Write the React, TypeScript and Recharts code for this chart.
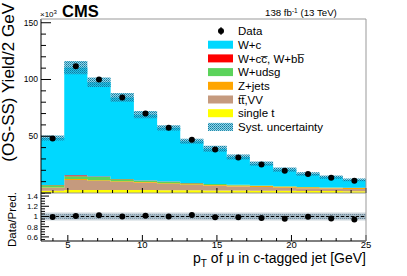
import React from 'react';
import { ComposedChart, Area, Scatter, XAxis, YAxis, ReferenceLine } from 'recharts';

// Bin edges of the pT(mu) histogram [GeV]
const binEdges = [3.2, 4.76, 6.31, 7.87, 9.43, 10.99, 12.54, 14.1, 15.66, 17.21, 18.77, 20.33, 21.89, 23.44, 25];
// Stacked MC components (x10^3 events / bin)
const singleT = [2.0, 2.6, 2.6, 2.6, 2.6, 2.5, 2.4, 2.3, 2.2, 2.0, 1.9, 1.8, 1.7, 1.6];
const ttVV = [2.4, 8.8, 7.9, 7.2, 6.4, 5.5, 4.6, 4.0, 3.6, 3.2, 2.8, 2.4, 2.2, 2.0];
const zJets = [0.5, 0.9, 0.8, 0.6, 0.6, 0.6, 0.6, 0.8, 0.9, 0.9, 0.9, 0.8, 0.8, 0.7];
const wUdsg = [2.0, 2.4, 2.9, 1.8, 1.3, 1.3, 1.1, 0.8, 0.5, 0.4, 0.3, 0.3, 0.2, 0.2];
const wCCbb = [0.2, 0.9, 0.3, 0.2, 0.2, 0.15, 0.1, 0.1, 0.1, 0.1, 0.05, 0.05, 0.05, 0.05];
const wC = [41.4, 94.9, 83.0, 71.8, 57.9, 47.35, 36.8, 31.0, 24.5, 19.2, 14.65, 11.45, 9.05, 6.95];
const dataYield = [48.0, 111.6, 99.9, 84.2, 70.0, 57.4, 47.0, 38.4, 31.3, 25.0, 19.7, 16.7, 13.4, 10.8];
const systUnc = [2.2, 5.8, 4.2, 3.9, 3.2, 2.3, 2.1, 2.6, 2.2, 1.9, 1.9, 1.5, 1.5, 1.2];
// Ratio panel
const ratio = [0.99, 1.01, 1.025, 1.0, 1.015, 1.0, 1.03, 0.985, 0.985, 0.97, 0.955, 0.995, 0.96, 0.94];
const ratioTotUnc = [0.08, 0.08, 0.08, 0.08, 0.08, 0.08, 0.08, 0.08, 0.08, 0.08, 0.08, 0.08, 0.08, 0.08];
const ratioSystUnc = [0.045, 0.05, 0.045, 0.045, 0.045, 0.045, 0.045, 0.05, 0.05, 0.05, 0.05, 0.05, 0.05, 0.05];
// Tick values
const mainYTicks = [0, 10, 20, 30, 40, 50, 60, 70, 80, 90, 100, 110, 120, 130, 140, 150];
const mainYLabels = [50, 100, 150];
const xTicks = [4, 5, 6, 7, 8, 9, 10, 11, 12, 13, 14, 15, 16, 17, 18, 19, 20, 21, 22, 23, 24, 25];
const xLabels = [5, 10, 15, 20, 25];
const ratioYTicks = [0.55, 0.6, 0.65, 0.7, 0.75, 0.8, 0.85, 0.9, 0.95, 1.0, 1.05, 1.1, 1.15, 1.2, 1.25, 1.3, 1.35, 1.4, 1.45];
const ratioYLabels = [0.6, 0.8, 1, 1.2, 1.4];
const legendLabels = ['Data', 'W+c', 'W+cc\u0305, W+bb\u0305', 'W+udsg', 'Z+jets', 'tt\u0305,VV', 'single t', 'Syst. uncertainty'];

const FONT = '"Liberation Sans", Arial, Helvetica, sans-serif';

const C = {
  wc: '#00d8ff',
  wccbb: '#ff0000',
  wudsg: '#5bd35b',
  zjets: '#ffa500',
  ttvv: '#c59a7e',
  singlet: '#ffff00',
};

const nBins = dataYield.length;
const edgeData = binEdges.map((x, i) => {
  const k = Math.min(i, nBins - 1);
  const tot = singleT[k] + ttVV[k] + zJets[k] + wUdsg[k] + wCCbb[k] + wC[k];
  return {
    x,
    singleT: singleT[k],
    ttVV: ttVV[k],
    zJets: zJets[k],
    wUdsg: wUdsg[k],
    wCCbb: wCCbb[k],
    wC: wC[k],
    band: [tot - systUnc[k], tot + systUnc[k]],
    rTot: [1 - ratioTotUnc[k], 1 + ratioTotUnc[k]],
    rSyst: [1 - ratioSystUnc[k], 1 + ratioSystUnc[k]],
  };
});
const centers = dataYield.map((_, i) => (binEdges[i] + binEdges[i + 1]) / 2);
const pointData = dataYield.map((y, i) => ({ x: centers[i], y }));
const ratioData = ratio.map((y, i) => ({ x: centers[i], y }));

const near = (a: number, list: number[]) => list.some((b) => Math.abs(a - b) < 1e-6);

const MainYTick = (p: any) => {
  const v = p.payload.value;
  const major = near(v, [0, 50, 100, 150]);
  return (
    <g>
      <line x1={p.x} x2={p.x + (major ? 10 : 5)} y1={p.y} y2={p.y} stroke="#000" strokeWidth={1} />
      {near(v, mainYLabels) && (
        <text x={p.x - 3} y={p.y} dy="0.35em" textAnchor="end" fontSize={8.5} fontFamily={FONT} fill="#000">
          {v}
        </text>
      )}
    </g>
  );
};

const MainXTick = (p: any) => {
  const v = p.payload.value;
  const major = near(v, xLabels);
  return <line x1={p.x} x2={p.x} y1={p.y} y2={p.y - (major ? 5 : 3)} stroke="#000" strokeWidth={1} />;
};

const RatioXTick = (p: any) => {
  const v = p.payload.value;
  const major = near(v, xLabels);
  return (
    <g>
      <line x1={p.x} x2={p.x} y1={p.y} y2={p.y - (major ? 6 : 3)} stroke="#000" strokeWidth={1} />
      {major && (
        <text x={p.x} y={p.y + 7} textAnchor="middle" fontSize={9.5} fontFamily={FONT} fill="#000">
          {v}
        </text>
      )}
    </g>
  );
};

const RatioYTick = (p: any) => {
  const v = p.payload.value;
  const major = near(v, ratioYLabels);
  return (
    <g>
      <line x1={p.x} x2={p.x + (major ? 8 : 4)} y1={p.y} y2={p.y} stroke="#000" strokeWidth={1} />
      {major && (
        <text x={p.x - 3} y={p.y} dy="0.35em" textAnchor="end" fontSize={8} fontFamily={FONT} fill="#000">
          {v}
        </text>
      )}
    </g>
  );
};

const Dot = (p: any) => <circle cx={p.cx} cy={p.cy} r={3} fill="#000" />;

const legendKinds = ['data', 'fill', 'fill', 'fill', 'fill', 'fill', 'fill', 'syst'];
const legendColors = ['', C.wc, C.wccbb, C.wudsg, C.zjets, C.ttvv, C.singlet, ''];

export default function App() {
  return (
    <div style={{ position: 'absolute', left: 0, top: 0, width: 407, height: 276, background: '#fff', fontFamily: FONT }}>
      <svg width={0} height={0} style={{ position: 'absolute' }}>
        <defs>
          <pattern id="systPat" width={2} height={2} patternUnits="userSpaceOnUse">
            <rect x={0} y={0} width={2} height={2} fill="#3fb0d2" fillOpacity={0.55} />
            <rect x={0} y={0} width={1} height={1} fill="#0c7ea3" />
            <rect x={1} y={1} width={1} height={1} fill="#0c7ea3" fillOpacity={0.7} />
          </pattern>
          <pattern id="ratioPat" width={2} height={2} patternUnits="userSpaceOnUse">
            <rect x={0} y={0} width={2} height={2} fill="#a6bac6" />
            <rect x={0} y={0} width={1} height={1} fill="#6d8799" />
          </pattern>
        </defs>
      </svg>

      {/* Ratio panel */}
      <div style={{ position: 'absolute', left: 0, top: 0 }}>
        <ComposedChart width={407} height={276} data={edgeData} margin={{ top: 193, right: 41, bottom: 0, left: 0 }}>
          <XAxis
            dataKey="x"
            type="number"
            domain={[3.2, 25]}
            allowDataOverflow
            ticks={xTicks}
            interval={0}
            tickSize={0}
            tickMargin={0}
            tickLine={false}
            tick={<RatioXTick />}
            height={35}
            axisLine={{ stroke: '#000' }}
          />
          <YAxis
            type="number"
            domain={[0.52, 1.46]}
            allowDataOverflow
            ticks={ratioYTicks}
            interval={0}
            tickSize={0}
            tickMargin={0}
            tickLine={false}
            tick={<RatioYTick />}
            width={41}
            axisLine={{ stroke: '#000' }}
          />
          <Area dataKey="rTot" type="stepAfter" stroke="none" fill="#cbd5dc" fillOpacity={1} isAnimationActive={false} />
          <Area dataKey="rSyst" type="stepAfter" stroke="none" fill="url(#ratioPat)" fillOpacity={1} isAnimationActive={false} />
          <ReferenceLine y={1} stroke="#000" strokeDasharray="3 2" strokeWidth={1} />
          <Scatter data={ratioData} dataKey="y" shape={<Dot />} isAnimationActive={false} />
        </ComposedChart>
      </div>

      {/* Main panel */}
      <div style={{ position: 'absolute', left: 0, top: 0 }}>
        <ComposedChart width={407} height={200} data={edgeData} margin={{ top: 19, right: 41, bottom: 0, left: 0 }}>
          <XAxis
            dataKey="x"
            type="number"
            domain={[3.2, 25]}
            allowDataOverflow
            ticks={xTicks}
            interval={0}
            tickSize={0}
            tickMargin={0}
            tickLine={false}
            tick={<MainXTick />}
            height={7}
            axisLine={{ stroke: '#999' }}
          />
          <YAxis
            type="number"
            domain={[0, 153.3]}
            allowDataOverflow
            ticks={mainYTicks}
            interval={0}
            tickSize={0}
            tickMargin={0}
            tickLine={false}
            tick={<MainYTick />}
            width={41}
            axisLine={{ stroke: '#000' }}
          />
          <Area dataKey="singleT" stackId="mc" type="stepAfter" stroke="none" fill={C.singlet} fillOpacity={1} isAnimationActive={false} />
          <Area dataKey="ttVV" stackId="mc" type="stepAfter" stroke="none" fill={C.ttvv} fillOpacity={1} isAnimationActive={false} />
          <Area dataKey="zJets" stackId="mc" type="stepAfter" stroke="none" fill={C.zjets} fillOpacity={1} isAnimationActive={false} />
          <Area dataKey="wUdsg" stackId="mc" type="stepAfter" stroke="none" fill={C.wudsg} fillOpacity={1} isAnimationActive={false} />
          <Area dataKey="wCCbb" stackId="mc" type="stepAfter" stroke="none" fill={C.wccbb} fillOpacity={1} isAnimationActive={false} />
          <Area dataKey="wC" stackId="mc" type="stepAfter" stroke="none" fill={C.wc} fillOpacity={1} isAnimationActive={false} />
          <Area dataKey="band" type="stepAfter" stroke="none" fill="url(#systPat)" fillOpacity={1} isAnimationActive={false} />
          <Scatter data={pointData} dataKey="y" shape={<Dot />} isAnimationActive={false} />
        </ComposedChart>
      </div>

      {/* Frame, titles and legend */}
      <svg width={407} height={276} style={{ position: 'absolute', left: 0, top: 0, pointerEvents: 'none' }} fontFamily={FONT}>
        <line x1={41} x2={366} y1={19} y2={19} stroke="#999" strokeWidth={1} />
        <line x1={366} x2={366} y1={19} y2={241} stroke="#999" strokeWidth={1} />

        <text x={40} y={17} fontSize={8} fill="#000">
          ×10<tspan fontSize={6} dy={-3}>3</tspan>
        </text>
        <text x={62} y={17} fontSize={16.5} fontWeight="bold" fill="#000">
          CMS
        </text>
        <text x={265} y={16} fontSize={9.7} fill="#000">
          138 fb<tspan fontSize={6.5} dy={-3.5}>-1</tspan>
          <tspan dy={3.5}> (13 TeV)</tspan>
        </text>

        <text transform="translate(14,3) rotate(-90)" textAnchor="end" fontSize={17} fill="#000">
          (OS-SS) Yield/2 GeV
        </text>
        <text transform="translate(15.5,192) rotate(-90)" textAnchor="end" fontSize={11.5} fill="#000">
          Data/Pred.
        </text>
        <text x={366} y={263} textAnchor="end" fontSize={14} fill="#000">
          p<tspan fontSize={10} dy={4}>T</tspan>
          <tspan dy={-4}> of μ in c-tagged jet [GeV]</tspan>
        </text>

        {legendLabels.map((label, i) => {
          const cy = 31 + i * 13.7;
          const kind = legendKinds[i];
          return (
            <g key={label}>
              {kind === 'data' && (
                <g>
                  <line x1={221} x2={221} y1={cy - 4} y2={cy + 4} stroke="#000" strokeWidth={1} />
                  <circle cx={221} cy={cy} r={3} fill="#000" />
                </g>
              )}
              {kind === 'fill' && <rect x={208} y={cy - 4} width={25} height={8} fill={legendColors[i]} />}
              {kind === 'syst' && <rect x={208} y={cy - 4} width={25} height={8} fill="url(#systPat)" />}
              <text x={238} y={cy} dy="0.36em" fontSize={11.5} fill="#000">
                {label}
              </text>
            </g>
          );
        })}
      </svg>
    </div>
  );
}
